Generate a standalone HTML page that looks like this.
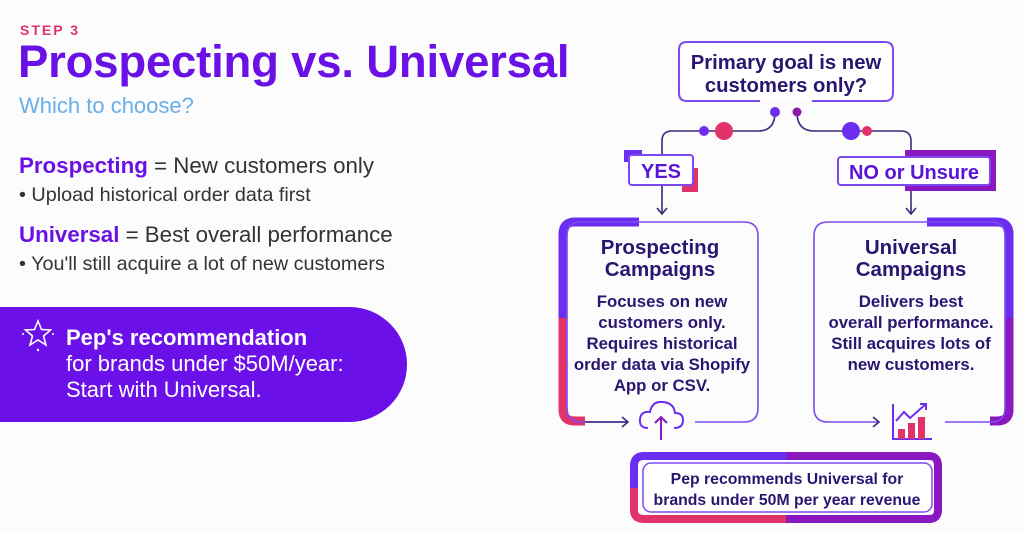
<!DOCTYPE html>
<html><head><meta charset="utf-8"><style>
body{margin:0;width:1024px;height:533px;background:#fcfcfd;overflow:hidden;position:relative;font-family:"Liberation Sans",sans-serif}
.a{position:absolute;white-space:nowrap}
</style></head><body>
<div class="a" style="left:20px;top:22px;font-size:14px;font-weight:bold;letter-spacing:2px;color:#e0336a">STEP 3</div>
<div class="a" style="left:18px;top:36px;font-size:45.5px;font-weight:bold;color:#6a12e6;letter-spacing:-0.2px">Prospecting vs. Universal</div>
<div class="a" style="left:19px;top:93px;font-size:22px;color:#6aaee8">Which to choose?</div>
<div class="a" style="left:19px;top:153px;font-size:22.3px;color:#333"><b style="color:#6a12e6">Prospecting</b> = New customers only</div>
<div class="a" style="left:19px;top:184px;font-size:19.8px;color:#333">• Upload historical order data first</div>
<div class="a" style="left:19px;top:222px;font-size:22.3px;color:#333"><b style="color:#6a12e6">Universal</b> = Best overall performance</div>
<div class="a" style="left:19px;top:253px;font-size:19.8px;color:#333">• You'll still acquire a lot of new customers</div>
<div class="a" style="left:0;top:307px;width:407px;height:115px;background:#6b10e8;border-radius:0 58px 58px 0"></div>
<svg class="a" style="left:20px;top:316px" width="36" height="36" viewBox="0 0 36 36"><path d="M18 5 L21.5 13.5 L30.5 14 L23.5 20 L26 29 L18 24 L10 29 L12.5 20 L5.5 14 L14.5 13.5 Z" fill="none" stroke="#fff" stroke-width="1.6"/><circle cx="3" cy="18" r="1" fill="#fff"/><circle cx="33" cy="18" r="1" fill="#fff"/><circle cx="18" cy="34" r="1.2" fill="#fff"/></svg>
<div class="a" style="left:66px;top:325px;font-size:22px;font-weight:bold;color:#fff">Pep's recommendation</div>
<div class="a" style="left:66px;top:351px;font-size:22px;color:#fff">for brands under $50M/year:</div>
<div class="a" style="left:66px;top:377px;font-size:22px;color:#fff">Start with Universal.</div>

<svg class="a" style="left:0;top:0" width="1024" height="533" viewBox="0 0 1024 533" font-family="Liberation Sans, sans-serif" font-weight="bold">
<path d="M760 101 H687 Q679 101 679 93 V50 Q679 42 687 42 H885 Q893 42 893 50 V93 Q893 101 885 101 H812" fill="#fff" stroke="#7d4af0" stroke-width="2"/>
<text x="786" y="69" text-anchor="middle" font-size="20.3" fill="#2a1670">Primary goal is new</text>
<text x="786" y="92" text-anchor="middle" font-size="20.3" fill="#2a1670">customers only?</text>
<path d="M775 112 Q775 131 758 131 H672 Q662 131 662 141 V213" fill="none" stroke="#3a2a7a" stroke-width="1.6"/>
<path d="M797 112 Q797 131 814 131 H901 Q911 131 911 141 V213" fill="none" stroke="#3a2a7a" stroke-width="1.6"/>
<path d="M657 208 L662 214 L667 208 M906 208 L911 214 L916 208" fill="none" stroke="#3a2a7a" stroke-width="1.6"/>
<circle cx="775" cy="112" r="5" fill="#6b2ef0"/><circle cx="797" cy="112" r="4.5" fill="#8a1aa8"/>
<circle cx="704" cy="131" r="5" fill="#6b2ef0"/><circle cx="724" cy="131" r="9" fill="#e0336a"/>
<circle cx="851" cy="131" r="9" fill="#6b2ef0"/><circle cx="867" cy="131" r="5" fill="#e0336a"/>
<rect x="624" y="150" width="18" height="12" fill="#6b2ef0"/>
<rect x="682" y="168" width="16" height="24" fill="#e0336a"/>
<rect x="629" y="155" width="64" height="30" rx="3" fill="#fff" stroke="#7d4af0" stroke-width="2"/>
<text x="661" y="178" text-anchor="middle" font-size="20" fill="#5a14d8">YES</text>
<rect x="905" y="150" width="91" height="41" fill="#8a18c0"/>
<rect x="838" y="157" width="152" height="28" rx="3" fill="#fff" stroke="#7d4af0" stroke-width="2"/>
<text x="914" y="179" text-anchor="middle" font-size="20" fill="#5a14d8">NO or Unsure</text>
<path d="M639 222 H575 Q563 222 563 234 V318" fill="none" stroke="#6b2ef0" stroke-width="9"/>
<path d="M563 318 V410 Q563 421 575 421 H585" fill="none" stroke="#e0336a" stroke-width="9"/>
<path d="M628 422 H581 Q567 422 567 408 V236 Q567 222 581 222 H744 Q758 222 758 236 V408 Q758 422 744 422 H695" fill="none" stroke="#7d4af0" stroke-width="1.6"/>
<path d="M585 422 H628 M622 417 L628 422 L622 427" fill="none" stroke="#3a2a7a" stroke-width="1.6"/>
<path d="M648 428 Q639 428 640 419 Q641 411 650 412 Q652 401 663 402 Q674 403 675 413 Q683 413 683 420 Q683 428 674 428" fill="none" stroke="#6b2ef0" stroke-width="2"/>
<path d="M661 440 V417 M655 423 L661 417 L667 423" fill="none" stroke="#8a18c0" stroke-width="2"/>
<text x="660" y="254" text-anchor="middle" font-size="20.5" fill="#2a1670">Prospecting</text>
<text x="660" y="276" text-anchor="middle" font-size="20.5" fill="#2a1670">Campaigns</text>
<g font-size="16.8" fill="#2a1670" text-anchor="middle">
<text x="662" y="307">Focuses on new</text><text x="662" y="328">customers only.</text><text x="662" y="349">Requires historical</text><text x="662" y="370">order data via Shopify</text><text x="662" y="391">App or CSV.</text>
</g>
<path d="M927 222 H997 Q1009 222 1009 234 V318" fill="none" stroke="#6b2ef0" stroke-width="9"/>
<path d="M1009 318 V410 Q1009 421 997 421 H990" fill="none" stroke="#8a18c0" stroke-width="9"/>
<path d="M878 422 H828 Q814 422 814 408 V236 Q814 222 828 222 H991 Q1005 222 1005 236 V408 Q1005 422 991 422 H945" fill="none" stroke="#7d4af0" stroke-width="1.6"/>
<path d="M873 417 L879 422 L873 427" fill="none" stroke="#3a2a7a" stroke-width="1.6"/>
<path d="M893 404 V439 H932" fill="none" stroke="#6b2ef0" stroke-width="2"/>
<rect x="898" y="429" width="7" height="10" fill="#e0336a"/><rect x="908" y="423" width="7" height="16" fill="#e0336a"/><rect x="918" y="417" width="7" height="22" fill="#e0336a"/>
<path d="M896 421 L904 412 L910 418 L926 404 M920 404 H926 V410" fill="none" stroke="#6b2ef0" stroke-width="2"/>
<text x="911" y="254" text-anchor="middle" font-size="20.5" fill="#2a1670">Universal</text>
<text x="911" y="276" text-anchor="middle" font-size="20.5" fill="#2a1670">Campaigns</text>
<g font-size="16.8" fill="#2a1670" text-anchor="middle">
<text x="911" y="307">Delivers best</text><text x="911" y="328">overall performance.</text><text x="911" y="349">Still acquires lots of</text><text x="911" y="370">new customers.</text>
</g>
<path d="M786 456 H644 Q634 456 634 466 V488" fill="none" stroke="#6b2ef0" stroke-width="8"/>
<path d="M634 488 V510 Q634 519 644 519 H786" fill="none" stroke="#e0336a" stroke-width="8"/>
<path d="M786 456 H929 Q938 456 938 466 V510 Q938 519 929 519 H786" fill="none" stroke="#8a18c0" stroke-width="8"/>
<rect x="643" y="463" width="289" height="49" rx="8" fill="#fff" stroke="#7d4af0" stroke-width="1.5"/>
<text x="787" y="484" text-anchor="middle" font-size="15.8" fill="#2a1670">Pep recommends Universal for</text>
<text x="787" y="505" text-anchor="middle" font-size="15.8" fill="#2a1670">brands under 50M per year revenue</text>
</svg>
</body></html>
